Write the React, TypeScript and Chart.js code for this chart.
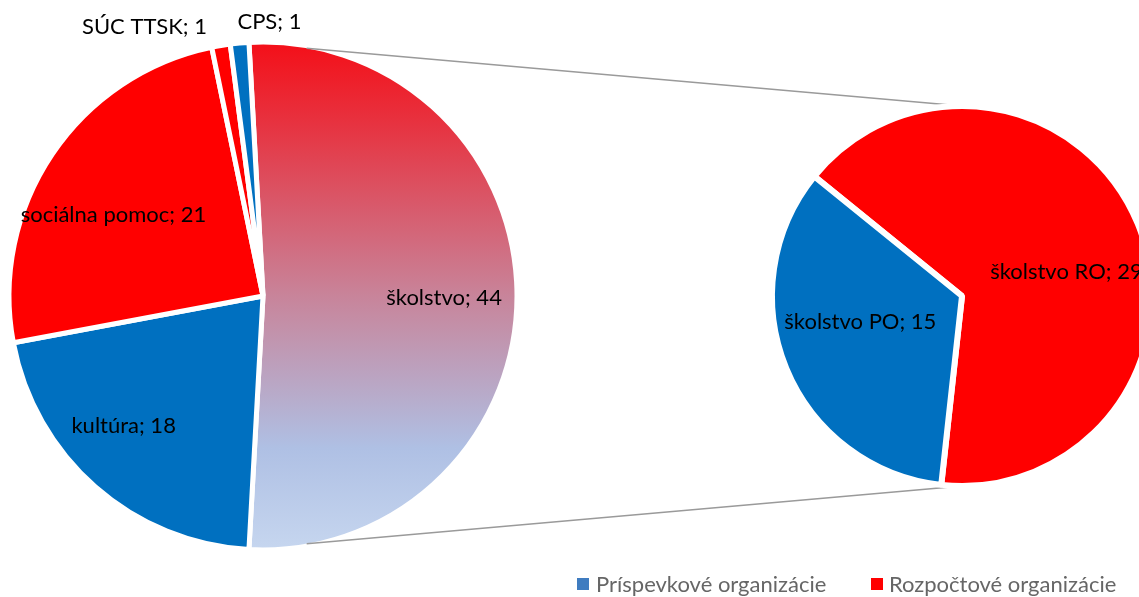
import React, { useEffect, useRef } from "react";
import { Chart, registerables } from "chart.js";

Chart.register(...registerables);

// ---- data ----
const mainLabels = ["školstvo", "kultúra", "sociálna pomoc", "SÚC TTSK", "CPS"];
const mainValues = [44, 18, 21, 1, 1];
const subLabels = ["školstvo RO", "školstvo PO"];
const subValues = [29, 15];
const legendLabels = ["Príspevkové organizácie", "Rozpočtové organizácie"];

// ---- styles ----
const W = 1139;
const H = 597;
const FONT = "Lato, Carlito, Calibri, sans-serif";
const BLUE = "#0070C0";
const RED = "#FF0000";
const mainColorsRest = [BLUE, RED, RED, BLUE];
const subColors = [RED, BLUE];
const legendColors = ["#3f7cc0", "#FF0000"];

// label placement per slice: [radial factor, dx, dy, align]
type LP = [number, number, number, CanvasTextAlign];
const mainLabelPos: LP[] = [
  [0.713, 0, 2, "center"],
  [0.7, -22, -4, "center"],
  [0.7, -2, 18, "center"],
  [1.07, -11, -1, "right"],
  [1.09, 0, 2, "left"],
];
const subLabelPos: LP[] = [
  [0.6, -1, 19, "center"],
  [0.55, -5, -14, "center"],
];

function labelPlugin(pos: LP[], texts: string[]) {
  return {
    id: "sliceLabels",
    afterDatasetsDraw(chart: any) {
      const meta = chart.getDatasetMeta(0);
      const ctx = chart.ctx as CanvasRenderingContext2D;
      ctx.save();
      ctx.font = `22px ${FONT}`;
      ctx.fillStyle = "#000";
      ctx.textBaseline = "middle";
      meta.data.forEach((el: any, i: number) => {
        const mid = (el.startAngle + el.endAngle) / 2;
        const [f, dx, dy, align] = pos[i];
        ctx.textAlign = align;
        ctx.fillText(
          texts[i],
          el.x + Math.cos(mid) * el.outerRadius * f + dx,
          el.y + Math.sin(mid) * el.outerRadius * f + dy
        );
      });
      ctx.restore();
    },
  };
}

export default function App() {
  const ref1 = useRef<HTMLCanvasElement>(null);
  const ref2 = useRef<HTMLCanvasElement>(null);

  useEffect(() => {
    const total = mainValues.reduce((a, b) => a + b, 0);
    const mainRotation = 90 - (mainValues[0] / total) * 180;
    const mainBorder = 5;
    const subBorder = 6;

    const mainTexts = mainLabels.map((l, i) => `${l}; ${mainValues[i]}`);
    const subTexts = subLabels.map((l, i) => `${l}; ${subValues[i]}`);

    const c1 = new Chart(ref1.current!, {
      type: "pie",
      data: {
        labels: mainLabels,
        datasets: [
          {
            data: mainValues,
            backgroundColor: (c: any) => {
              if (c.dataIndex !== 0) return mainColorsRest[c.dataIndex - 1];
              const chart = c.chart;
              const area = chart.chartArea;
              if (!area) return RED;
              const cy = (area.top + area.bottom) / 2;
              const r = 254;
              const g = chart.ctx.createLinearGradient(0, cy - r, 0, cy + r);
              g.addColorStop(0, "#F40F18");
              g.addColorStop(0.15, "#E8303D");
              g.addColorStop(0.5, "#C8849A");
              g.addColorStop(0.8, "#AFC0E4");
              g.addColorStop(1, "#C6D6EF");
              return g;
            },
            borderColor: "#FFFFFF",
            borderWidth: mainBorder,
            clip: false,
          } as any,
        ],
      },
      options: {
        responsive: false,
        animation: false,
        devicePixelRatio: 1,
        events: [],
        rotation: mainRotation,
        radius: 254,
        layout: { padding: { left: 0, right: W - 526, top: 0, bottom: H - 592 } },
        plugins: { legend: { display: false }, tooltip: { enabled: false } },
      } as any,
      plugins: [labelPlugin(mainLabelPos, mainTexts)],
    });

    const connectorPlugin = {
      id: "connectors",
      beforeDatasetsDraw(chart: any) {
        const m = c1.getDatasetMeta(0).data[0] as any;
        const s = chart.getDatasetMeta(0).data[0] as any;
        if (!m || !s) return;
        const R1 = m.outerRadius - mainBorder / 2;
        const R2 = s.outerRadius - subBorder / 2;
        const a = (10 * Math.PI) / 180;
        const topStart = [m.x + Math.sin(a) * R1, m.y - Math.cos(a) * R1];
        const botStart = [m.x + Math.sin(a) * R1, m.y + Math.cos(a) * R1];
        const topEnd = [s.x, s.y - R2 - 3];
        const botEnd = [s.x, s.y + R2 + 3];
        const ctx = chart.ctx as CanvasRenderingContext2D;
        ctx.save();
        ctx.strokeStyle = "#9a9a9a";
        ctx.lineWidth = 1.6;
        ctx.beginPath();
        ctx.moveTo(topStart[0], topStart[1]);
        ctx.lineTo(topEnd[0], topEnd[1]);
        ctx.moveTo(botStart[0], botStart[1]);
        ctx.lineTo(botEnd[0], botEnd[1]);
        ctx.stroke();
        ctx.restore();
      },
    };

    const subCenterX = 962;
    const c2 = new Chart(ref2.current!, {
      type: "pie",
      data: {
        labels: subLabels,
        datasets: [
          {
            data: subValues,
            backgroundColor: subColors,
            borderColor: "#FFFFFF",
            borderWidth: subBorder,
            clip: false,
          } as any,
        ],
      },
      options: {
        responsive: false,
        animation: false,
        devicePixelRatio: 1,
        events: [],
        rotation: -51,
        radius: 190,
        layout: { padding: { left: subCenterX * 2 - W, right: 0, top: 0, bottom: H - 592 } },
        plugins: { legend: { display: false }, tooltip: { enabled: false } },
      } as any,
      plugins: [connectorPlugin, labelPlugin(subLabelPos, subTexts)],
    });

    return () => {
      c2.destroy();
      c1.destroy();
    };
  }, []);

  const legendText: React.CSSProperties = {
    position: "absolute",
    top: 571,
    font: `22px ${FONT}`,
    color: "#666666",
    whiteSpace: "nowrap",
    lineHeight: "26px",
  };
  const sq = (left: number, color: string): React.CSSProperties => ({
    position: "absolute",
    left,
    top: 578,
    width: 12,
    height: 12,
    background: color,
  });

  return (
    <div
      style={{
        position: "fixed",
        left: 0,
        top: 0,
        width: W,
        height: H,
        overflow: "hidden",
        background: "#fff",
      }}
    >
      <canvas ref={ref1} width={W} height={H} style={{ position: "absolute", left: 0, top: 0 }} />
      <canvas ref={ref2} width={W} height={H} style={{ position: "absolute", left: 0, top: 0 }} />
      <div style={sq(577, legendColors[0])} />
      <div style={{ ...legendText, left: 596 }}>{legendLabels[0]}</div>
      <div style={sq(871, legendColors[1])} />
      <div style={{ ...legendText, left: 889 }}>{legendLabels[1]}</div>
    </div>
  );
}
